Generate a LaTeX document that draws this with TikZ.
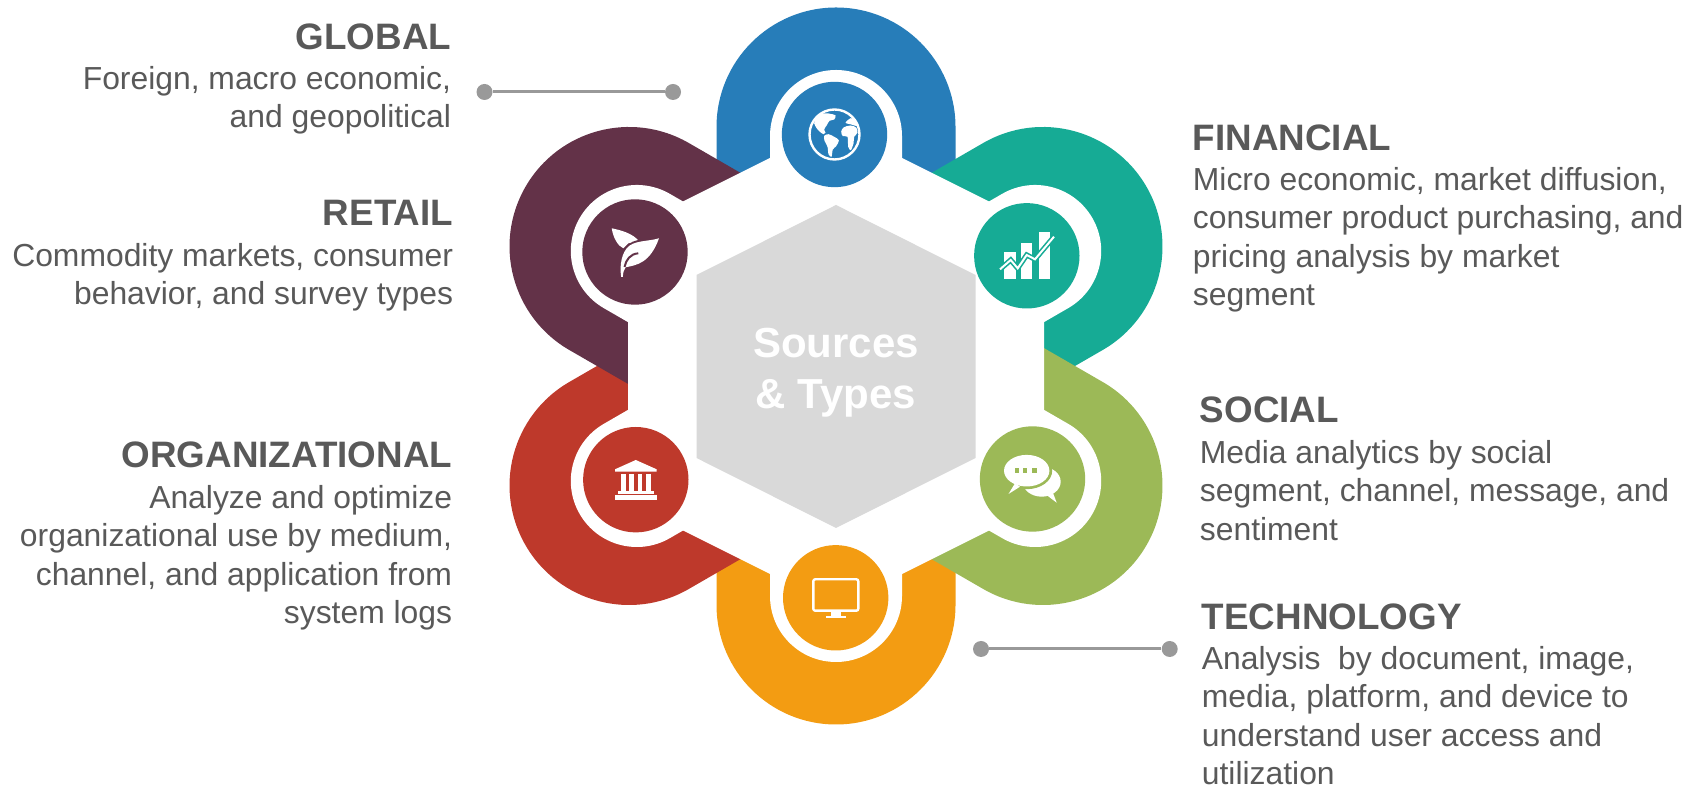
\documentclass[tikz,border=0pt]{standalone}
\usepackage{fontspec}
\setmainfont{Liberation Sans}
\usepackage{xcolor}
\usetikzlibrary{positioning}
\definecolor{cblue}{RGB}{39,125,185}
\definecolor{cteal}{RGB}{22,171,149}
\definecolor{cgreen}{RGB}{156,185,87}
\definecolor{corange}{RGB}{243,156,18}
\definecolor{cred}{RGB}{190,57,43}
\definecolor{cmaroon}{RGB}{99,50,72}
\definecolor{chex}{RGB}{217,217,217}
\definecolor{ctext}{RGB}{89,89,89}
\definecolor{cline}{RGB}{153,153,153}
\tikzstyle{heading} = [inner sep=0pt, text=ctext, font=\fontsize{18.4}{22}\selectfont\bfseries]
\tikzstyle{desc} = [inner sep=0pt, text=ctext, font=\fontsize{15.93}{19.2}\selectfont]
\tikzstyle{disc} = [circle, inner sep=0pt, minimum size=52.7pt]
\tikzstyle{dot} = [circle, inner sep=0pt, minimum size=8pt, fill=cline]
\tikzstyle{leader} = [cline, line width=1.5pt]
\newcommand{\petal}[2]{
    \begin{scope}[shift={(hexc)}, rotate=#1]
        \fill[#2] (119.5,239) arc (0:180:119.5) -- (-119.5,60) -- (119.5,60) -- cycle;
        \fill[white] (66,230) arc (0:180:66) -- (-66,60) -- (66,60) -- cycle;
    \end{scope}
}

\begin{document}
\begin{tikzpicture}[x=0.5pt, y=0.5pt]
    \useasboundingbox (0,0) rectangle (1702,786);
    \coordinate (hexc) at (836,420);
    \petal{180}{corange}
    \petal{0}{cblue}
    \petal{120}{cred}
    \petal{60}{cmaroon}
    \petal{-60}{cteal}
    \petal{-120}{cgreen}
    \fill[white] (836,661) -- (628,557) -- (628,283) -- (836,179) -- (1044,283) -- (1044,557) -- cycle;
    \fill[chex] (836,581) -- (696.5,511) -- (696.5,328) -- (836,258) -- (975.5,328) -- (975.5,511) -- cycle;
    \node[inner sep=0pt, text=white, align=center, font=\fontsize{21}{25.5}\selectfont\bfseries] (hextext) at (836,413.7) {Sources\\\& Types};

    \node[disc, fill=cblue] (cglobe) at (834.5,651.5) {};
    \node[disc, fill=cmaroon] (cleaf) at (635,534) {};
    \node[disc, fill=cteal] (cchart) at (1026.8,530.2) {};
    \node[disc, fill=cgreen] (cchat) at (1032.5,307) {};
    \node[disc, fill=corange] (cscreen) at (835.7,188.2) {};
    \node[disc, fill=cred] (cbank) at (635.8,306.3) {};

    \begin{scope}[shift={(cglobe)}]
        \draw[white, line width=1.2pt] (0,0) circle (25);
        \fill[white] plot[smooth cycle, tension=.5] coordinates {(-19.3,15) (-14.3,20.3) (-6,21) (1,19) (-.3,15) (-5,13.7) (-7.7,9.3) (-10.3,5) (-9,1.7) (-11,.3) (-15,3) (-17.7,6) (-20.3,11)};
        \fill[white] plot[smooth cycle, tension=.5] coordinates {(-10.3,-1.3) (-6,.3) (-.3,-2.3) (4.3,-5.7) (1.7,-11.7) (-1.7,-15) (-3,-22.3) (-6,-19.7) (-7,-12.3) (-10,-6.3)};
        \fill[white] plot[smooth cycle, tension=.5] coordinates {(6.7,2.7) (9,7) (15.7,9) (21.7,7) (23,1.7) (19.7,-2.3) (19,-9) (16.3,-15.7) (13.7,-12.3) (13,-2.3) (8.3,-1.7)};
        \fill[white] plot[smooth cycle, tension=.5] coordinates {(11,11.7) (16.3,16.3) (21.7,13.7) (23.7,8.3) (15.7,10.3)};
    \end{scope}
    \begin{scope}[shift={(cleaf)}]
        \fill[white] (-23.3,23.7) .. controls (-15,22) and (-1.7,18.7) .. (4.3,10.3) -- (-6.7,8.7) -- (-11.7,3.7) .. controls (-17,6) and (-21.7,13.7) .. (-23.3,23.7) -- cycle;
        \draw[cmaroon, line width=1pt] (24,14.7) .. controls (13.3,11.3) and (-1.7,13) .. (-8.3,4.7) -- (-13,-2);
        \fill[white] (24,13.7) .. controls (13.3,10.3) and (-1.7,12) .. (-8.3,3.7) .. controls (-15,-4.7) and (-15,-18) .. (-13.8,-25) -- (-12.2,-25) .. controls (-12,-20) and (-11,-18) .. (-9.3,-15.3) .. controls (1.7,-13) and (15,-11.3) .. (24,13.7) -- cycle;
        \draw[cmaroon, line width=1pt] (3.3,-1.3) .. controls (-5,-2) and (-9,-8) .. (-10.5,-15);
    \end{scope}
    \begin{scope}[shift={(cchart)}]
        \fill[white] (-22.5,-23.2) rectangle (-11.1,3.5);
        \fill[white] (-5.8,-23.2) rectangle (5.5,12.5);
        \fill[white] (11.9,-23.2) rectangle (23.2,23.5);
        \draw[cteal, line width=2.6pt] (-26.8,-13.5) -- (-16.1,-4.2) -- (-9.1,-12.5) -- (-.1,.8) -- (8.2,-3.5) -- (27.2,19.1);
        \draw[white, line width=1pt] (-26.8,-13.5) -- (-16.1,-4.2) -- (-9.1,-12.5) -- (-.1,.8) -- (8.2,-3.5) -- (27.2,19.1);
    \end{scope}
    \begin{scope}[shift={(cchat)}]
        \fill[white] (9.2,-2.7) ellipse (19 and 15);
        \fill[white] (14,-16) -- (24.2,-23.7) -- (20,-12.7) -- cycle;
        \fill[cgreen] (-5.8,8.3) ellipse (25.5 and 18.5);
        \fill[white] (-5.8,8.3) ellipse (22.7 and 15.8);
        \fill[white] (-17.5,-4.3) -- (-24,-15) -- (-12.5,-7.7) -- cycle;
        \fill[cgreen] (-18,6.3) rectangle (-13.5,11);
        \fill[cgreen] (-9.8,6.3) rectangle (-5.2,11);
        \fill[cgreen] (-.5,6.3) rectangle (4.2,11);
    \end{scope}
    \begin{scope}[shift={(cscreen)}]
        \draw[white, line width=1.2pt, rounded corners=1pt] (-22.4,-12.9) rectangle (22.6,18.5);
        \fill[white] (-5,-13.9) rectangle (5.6,-18.2);
        \fill[white] (-9.7,-18.2) rectangle (9.9,-20.5);
    \end{scope}
    \begin{scope}[shift={(cbank)}]
        \fill[white] (0,19.7) -- (20.8,10.4) -- (20.8,8) -- (-20.8,8) -- (-20.8,10.4) -- cycle;
        \fill[white] (-15.1,5.7) rectangle (-9.8,-11);
        \fill[white] (-6.5,5.7) rectangle (-1.8,-11);
        \fill[white] (1.9,5.7) rectangle (6.5,-11);
        \fill[white] (9.9,5.7) rectangle (15.2,-11);
        \fill[white] (-18.3,-11.6) rectangle (18.3,-14.3);
        \fill[white] (-20.8,-15.6) rectangle (20.8,-20.3);
    \end{scope}

    \node[dot] (dotglobala) at (484.5,694) {};
    \node[dot] (dotglobalb) at (673,694) {};
    \draw[leader] (dotglobala) -- (dotglobalb);
    \node[dot] (dottecha) at (981,137) {};
    \node[dot] (dottechb) at (1169.7,137) {};
    \draw[leader] (dottecha) -- (dottechb);

    \node[heading, anchor=base east] (tglobal) at (451.5,736.5) {GLOBAL};
    \node[desc, align=right, below=8.2pt of tglobal.base east, anchor=north east] (dglobal) {Foreign, macro economic,\\and geopolitical};
    \node[heading, anchor=base east] (tretail) at (453.5,560.5) {RETAIL};
    \node[desc, align=right, below=8.7pt of tretail.base east, anchor=north east] (dretail) {Commodity markets, consumer\\behavior, and survey types};
    \node[heading, anchor=base east] (torg) at (452.5,318.5) {ORGANIZATIONAL};
    \node[desc, align=right, below=8.7pt of torg.base east, anchor=north east] (dorg) {Analyze and optimize\\organizational use by medium,\\channel, and application from\\system logs};
    \node[heading, anchor=base west] (tfin) at (1192.5,635.5) {FINANCIAL};
    \node[desc, align=left, below=8.2pt of tfin.base west, anchor=north west] (dfin) {Micro economic, market diffusion,\\consumer product purchasing, and\\pricing analysis by market\\segment};
    \node[heading, anchor=base west] (tsoc) at (1199.5,363.5) {SOCIAL};
    \node[desc, align=left, below=8.7pt of tsoc.base west, anchor=north west] (dsoc) {Media analytics by social\\segment, channel, message, and\\sentiment};
    \node[heading, anchor=base west] (ttech) at (1201.5,156.5) {TECHNOLOGY};
    \node[desc, align=left, below=8.2pt of ttech.base west, anchor=north west] (dtech) {Analysis\ \ by document, image,\\media, platform, and device to\\understand user access and\\utilization};
\end{tikzpicture}
\end{document}
